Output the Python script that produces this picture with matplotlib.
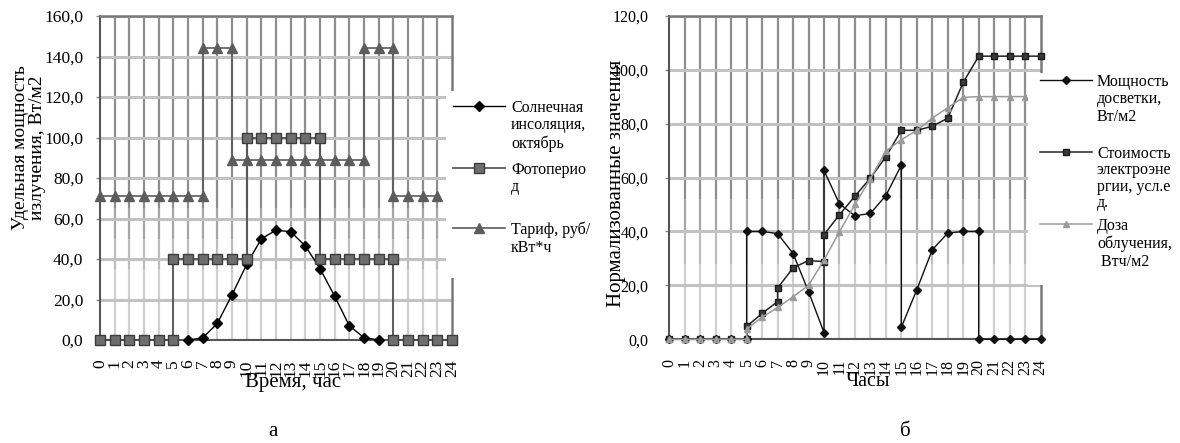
import matplotlib
matplotlib.use('Agg')
import matplotlib.pyplot as plt
from matplotlib.lines import Line2D
from matplotlib.patches import Rectangle
from matplotlib.ticker import FuncFormatter, MultipleLocator

plt.rcParams['font.family'] = ['Liberation Serif', 'DejaVu Serif']

hours = list(range(25))

# (а) солнечная инсоляция, фотопериод и тариф
sun_x = [6, 7, 8, 9, 10, 11, 12, 13, 14, 15, 16, 17, 18, 19]
sun_y = [0, 1, 8.2, 22.3, 37.3, 50, 54.2, 53.5, 46.4, 35.3, 21.6, 7, 1.2, 0]

photo_x = [0, 1, 2, 3, 4, 5, 5, 6, 7, 8, 9, 10, 10, 11, 12, 13, 14, 15,
           15, 16, 17, 18, 19, 20, 20, 21, 22, 23, 24]
photo_y = [0, 0, 0, 0, 0, 0, 40, 40, 40, 40, 40, 40, 100, 100, 100, 100, 100, 100,
           40, 40, 40, 40, 40, 40, 0, 0, 0, 0, 0]

tariff_x = [0, 1, 2, 3, 4, 5, 6, 7, 7, 8, 9, 9, 10, 11, 12, 13, 14, 15, 16, 17, 18,
            18, 19, 20, 20, 21, 22, 23]
tariff_y = [71, 71, 71, 71, 71, 71, 71, 71, 144, 144, 144, 89, 89, 89, 89, 89, 89, 89,
            89, 89, 89, 144, 144, 144, 71, 71, 71, 71]

# (б) нормализованные значения
light_x = [0, 1, 2, 3, 4, 5, 5, 6, 7, 8, 9, 10, 10, 11, 12, 13, 14, 15, 15, 16, 17, 18,
           19, 20, 20, 21, 22, 23, 24]
light_y = [0, 0, 0, 0, 0, 0, 40, 40, 39.2, 31.8, 17.7, 2.5, 62.6, 50.2, 45.8, 46.7, 53.3,
           64.6, 4.5, 18.4, 33.2, 39.4, 40, 40, 0, 0, 0, 0, 0]

cost_x = [0, 1, 2, 3, 4, 5, 5, 6, 7, 7, 8, 9, 10, 10, 11, 12, 13, 14, 15, 16, 17, 18,
          19, 20, 21, 22, 23, 24]
cost_y = [0, 0, 0, 0, 0, 0, 4.8, 9.6, 14, 19, 26.5, 29.2, 28.8, 38.8, 46.2, 53.1, 59.8,
          67.7, 77.5, 77.5, 79, 82, 95.3, 105, 105, 105, 105, 105]

dose_x = [0, 1, 2, 3, 4, 5, 5, 6, 7, 8, 9, 10, 11, 12, 13, 14, 15, 16, 17, 18, 19, 20,
          21, 22, 23]
dose_y = [0, 0, 0, 0, 0, 0, 3.8, 8.2, 11.8, 15.8, 20, 29.4, 39.9, 50, 59.6, 69.8, 74,
          77.5, 82, 85.9, 89.7, 90, 90, 90, 90]

W, H = 1180, 443


def fx(px):
    return px / W


def fy(py):
    return 1 - py / H


def comma_fmt(v, pos):
    return f'{v:.1f}'.replace('.', ',')


def setup_axes(ax, ymax, tick_size, ypad, bands):
    ax.set_xlim(0, 24)
    ax.set_ylim(0, ymax)
    ax.set_xticks(hours)
    ax.yaxis.set_major_locator(MultipleLocator(20))
    ax.yaxis.set_major_formatter(FuncFormatter(comma_fmt))
    ax.tick_params(axis='x', length=0, pad=14, labelsize=tick_size, labelrotation=90)
    ax.tick_params(axis='y', length=3, width=1, color='#888888', pad=ypad,
                   labelsize=tick_size)
    # сетка: вертикальные линии светлеют книзу
    lo = 0
    for hi, col in bands:
        ax.vlines(hours[1:-1], lo, min(hi, ymax), color=col, lw=1.6, zorder=0.5)
        lo = hi
    ax.hlines(ax.get_yticks()[1:-1], 0, 24, color='#c2c2c2', lw=2.2, zorder=0.6)
    for s in ['left', 'bottom']:
        ax.spines[s].set_color('#555555')
        ax.spines[s].set_linewidth(1.5)
    for s in ['top', 'right']:
        ax.spines[s].set_color('#7a7a7a')
        ax.spines[s].set_linewidth(1.8)


def legend_entry(fig, x0, x1, y, text_x, label, style, fontsize=11.5, spacing=1.15):
    fig.add_artist(Line2D([fx(x0), fx(x1)], [fy(y), fy(y)], transform=fig.transFigure,
                          color=style['color'], lw=style['lw'], zorder=6))
    fig.add_artist(Line2D([fx((x0 + x1) / 2)], [fy(y)], transform=fig.transFigure,
                          marker=style['marker'], ms=style['ms'], mfc=style['mfc'],
                          mec=style['mec'], ls='none', zorder=7))
    fig.text(fx(text_x), fy(y - 6.5), label, ha='left', va='top', fontsize=fontsize,
             linespacing=spacing, zorder=7)


sun_style = dict(color='black', lw=1.0, marker='D', ms=5.5, mfc='black', mec='black')
photo_style = dict(color='#4a4a4a', lw=1.2, marker='s', ms=6.5, mfc='#6e6e6e', mec='#3c3c3c')
tariff_style = dict(color='#5a5a5a', lw=1.2, marker='^', ms=7, mfc='#5c5c5c', mec='#5c5c5c')

light_style = dict(color='#111111', lw=1.0, marker='D', ms=3.8, mfc='#111111', mec='#111111')
cost_style = dict(color='#222222', lw=1.1, marker='s', ms=4.5, mfc='#3a3a3a', mec='#1a1a1a')
dose_style = dict(color='#9a9a9a', lw=1.1, marker='^', ms=4.5, mfc='#9a9a9a', mec='#9a9a9a')

fig = plt.figure(figsize=(11.8, 4.43), dpi=100)

# --- а ---
ax1 = fig.add_axes([fx(100), fy(340), fx(452) - fx(100), fy(16) - fy(340)])
setup_axes(ax1, 160, 12.5, 9,
           [(35, '#cfcfcf'), (50, '#bdbdbd'), (65, '#a6a6a6'), (160, '#8e8e8e')])
ax1.plot(sun_x, sun_y, clip_on=False, zorder=3, **sun_style)
ax1.plot(photo_x, photo_y, clip_on=False, zorder=4, **photo_style)
ax1.plot(tariff_x, tariff_y, clip_on=False, zorder=5, **tariff_style)

fig.add_artist(Rectangle((fx(446), fy(278)), fx(600) - fx(446), fy(91) - fy(278),
                         transform=fig.transFigure, facecolor='white', edgecolor='none',
                         zorder=5))
legend_entry(fig, 453, 505, 106, 511, 'Солнечная\nинсоляция,\nоктябрь', sun_style)
legend_entry(fig, 453, 505, 168, 511, 'Фотоперио\nд', photo_style)
legend_entry(fig, 453, 505, 228, 511, 'Тариф, руб/\nкВт*ч', tariff_style)

fig.text(fx(29), fy(148), 'Удельная мощность\nизлучения, Вт/м2', rotation=90,
         ha='center', va='center', fontsize=14, linespacing=1.05, multialignment='center')
fig.text(fx(293), fy(382), 'Время, час', ha='center', va='center', fontsize=15)
fig.text(fx(273), fy(432), 'а', ha='center', va='center', fontsize=15)

# --- б ---
ax2 = fig.add_axes([fx(669.3), fy(339.3), fx(1040.6) - fx(669.3), fy(15.7) - fy(339.3)])
setup_axes(ax2, 120, 11.5, 12,
           [(28, '#cfcfcf'), (40, '#bdbdbd'), (52, '#a6a6a6'), (120, '#8e8e8e')])
ax2.plot(light_x, light_y, clip_on=False, zorder=3, **light_style)
ax2.plot(cost_x, cost_y, clip_on=False, zorder=4, **cost_style)
ax2.plot(dose_x, dose_y, clip_on=False, zorder=5, **dose_style)

fig.add_artist(Rectangle((fx(1028), fy(285)), fx(1180) - fx(1028), fy(73) - fy(285),
                         transform=fig.transFigure, facecolor='white', edgecolor='none',
                         zorder=5))
legend_entry(fig, 1040, 1092, 80, 1097, 'Мощность\nдосветки,\nВт/м2', light_style)
legend_entry(fig, 1040, 1092, 152, 1097, 'Стоимость\nэлектроэне\nргии, усл.е\nд.', cost_style,
             spacing=1.05)
legend_entry(fig, 1040, 1092, 224, 1097, 'Доза\nоблучения,\n Втч/м2', dose_style)

fig.text(fx(617), fy(183), 'Нормализованные значения', rotation=90,
         ha='center', va='center', fontsize=15)
fig.text(fx(868), fy(382), 'Часы', ha='center', va='center', fontsize=14.5)
fig.text(fx(905), fy(431), 'б', ha='center', va='center', fontsize=15)

fig.savefig('out.png', dpi=100)
